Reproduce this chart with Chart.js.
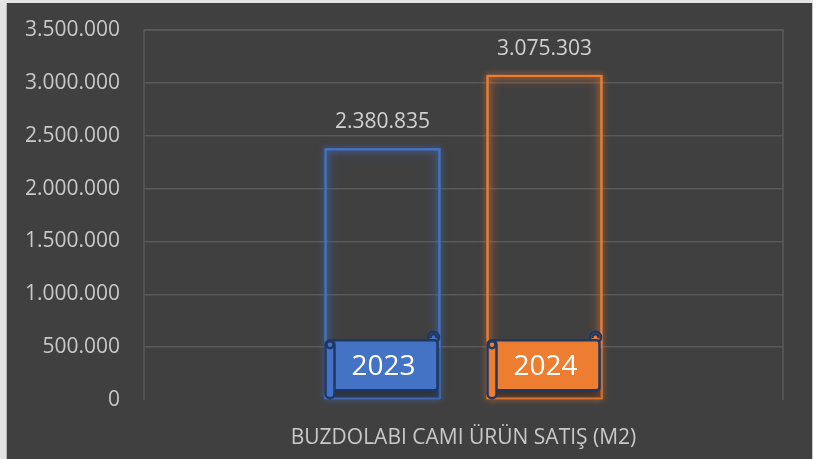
<!DOCTYPE html>
<html>
	<head>
		<meta charset="utf-8">
		<title>Buzdolabı camı ürün satış</title>
		<script src="https://cdn.jsdelivr.net/npm/chart.js"></script>
		<style>
			html, body { margin: 0; padding: 0; background: #ffffff; }
			#edge { position: absolute; left: 0; top: 0; width: 7px; height: 459px; background: #e4e4e4; border-right: 1px solid #b8b8b8; box-sizing: border-box; }
			#topEdge { position: absolute; left: 0; top: 0; width: 813px; height: 3px; background: #e4e4e4; }
			#wrap { position: absolute; left: 7px; top: 3px; width: 805px; height: 456px; background: #404040; border-right: 1px solid #c8c8c8; }
		</style>
	</head>
	<body>
		<div id="edge"></div>
		<div id="topEdge"></div>
		<div id="wrap"><canvas id="chart"></canvas></div>

		<script>
			// Data
			const categories = ['BUZDOLABI CAMI ÜRÜN SATIŞ (M2)'];
			const years = ['2023', '2024'];
			const sales2023 = [2380835];
			const sales2024 = [3075303];
			const yTicks = [0, 500000, 1000000, 1500000, 2000000, 2500000, 3000000, 3500000];

			const colors = ['#4472c4', '#ed7d31'];
			const fontFam = '"Open Sans", "Noto Sans", sans-serif';

			function fmt(v) {
				return v.toLocaleString('de-DE');
			}

			// glow around the outlined bars
			const glow = {
				id: 'glow',
				beforeDatasetDraw(chart, args) {
					const ctx = chart.ctx;
					ctx.save();
					ctx.shadowColor = colors[args.index];
					ctx.shadowBlur = 12;
				},
				afterDatasetDraw(chart) {
					chart.ctx.restore();
				}
			};

			// frame lines, value labels and the scroll banners with year names
			const extras = {
				id: 'extras',
				beforeDatasetsDraw(chart) {
					const ctx = chart.ctx, a = chart.chartArea;
					ctx.save();
					ctx.strokeStyle = '#595959';
					ctx.lineWidth = 1.5;
					ctx.beginPath();
					ctx.moveTo(a.left, a.bottom);
					ctx.lineTo(a.left, a.top);
					ctx.lineTo(a.right, a.top);
					ctx.lineTo(a.right, a.bottom);
					ctx.stroke();
					ctx.restore();
				},
				afterDatasetsDraw(chart) {
					const ctx = chart.ctx;
					chart.data.datasets.forEach((ds, i) => {
						const bar = chart.getDatasetMeta(i).data[0];
						const x0 = bar.x - bar.width / 2, x1 = bar.x + bar.width / 2;
						const base = bar.base;
						ctx.save();
						// a second pass on the outline to strengthen the glow
						ctx.shadowColor = colors[i];
						ctx.shadowBlur = 6;
						ctx.strokeStyle = colors[i];
						ctx.lineWidth = 2;
						ctx.strokeRect(x0 + 1, bar.y + 1, bar.width - 2, base - bar.y - 2);
						ctx.shadowBlur = 0;

						// value label
						ctx.fillStyle = '#d0d0d0';
						ctx.font = '21px ' + fontFam;
						ctx.textAlign = 'center';
						ctx.textBaseline = 'middle';
						ctx.fillText(fmt(ds.data[0]), bar.x, bar.y - 26);

						// banner
						const top = base - 59, bot = base - 9;
						const navy = '#1f3864';
						ctx.fillStyle = 'rgba(0,0,0,0.28)';
						ctx.fillRect(x0 + 4, top + 8, x1 - x0 - 5, bot - top);
						// top-right curl
						ctx.lineWidth = 2.5;
						ctx.strokeStyle = navy;
						ctx.fillStyle = colors[i];
						ctx.beginPath();
						ctx.arc(x1 - 7, top - 3, 5.5, 0, Math.PI * 2);
						ctx.fill();
						ctx.stroke();
						// main sheet
						ctx.beginPath();
						ctx.roundRect(x0 + 5, top, x1 - x0 - 8, bot - top, 3);
						ctx.fill();
						ctx.stroke();
						ctx.beginPath();
						ctx.arc(x1 - 7, top - 3, 3, Math.PI * 0.9, Math.PI * 2.1);
						ctx.stroke();
						// left roll
						ctx.beginPath();
						ctx.roundRect(x0 + 1, top, 9, bot - top + 8, 4.5);
						ctx.fill();
						ctx.stroke();
						ctx.beginPath();
						ctx.arc(x0 + 5.5, top + 4.5, 3.5, 0, Math.PI * 2);
						ctx.stroke();
						// year text
						ctx.fillStyle = '#ffffff';
						ctx.font = '28px ' + fontFam;
						ctx.fillText(years[i], bar.x + 1, (top + bot) / 2 + 2);
						ctx.restore();
					});
				}
			};

			new Chart(document.getElementById('chart'), {
				type: 'bar',
				data: {
					labels: categories,
					datasets: [
						{ label: years[0], data: sales2023, backgroundColor: 'rgba(0,0,0,0)', borderColor: colors[0], borderWidth: 2, borderSkipped: false },
						{ label: years[1], data: sales2024, backgroundColor: 'rgba(0,0,0,0)', borderColor: colors[1], borderWidth: 2, borderSkipped: false }
					]
				},
				options: {
					responsive: true,
					maintainAspectRatio: false,
					animation: false,
					categoryPercentage: 0.507,
					barPercentage: 0.716,
					layout: { padding: { top: 27, right: 29, left: 0, bottom: 0 } },
					plugins: {
						legend: { display: false },
						tooltip: { enabled: false }
					},
					scales: {
						x: {
							grid: { display: false },
							border: { display: false },
							ticks: { color: '#c8c8c8', font: { size: 21, family: fontFam }, padding: 17 },
							afterFit(s) { s.height = 59; }
						},
						y: {
							min: 0,
							max: 3500000,
							afterBuildTicks(s) { s.ticks = yTicks.map(v => ({ value: v })); },
							grid: {
								color: (c) => c.tick && c.tick.value === 0 ? 'rgba(0,0,0,0)' : '#595959',
								lineWidth: 1.5,
								drawTicks: false
							},
							border: { display: false },
							ticks: {
								color: '#c8c8c8',
								font: { size: 21, family: fontFam, lineHeight: 1 },
								padding: 24,
								callback: (v) => fmt(v)
							},
							afterFit(s) { s.width = 137; s.paddingTop = 0; }
						}
					}
				},
				plugins: [glow, extras]
			});
		</script>
	</body>
</html>
